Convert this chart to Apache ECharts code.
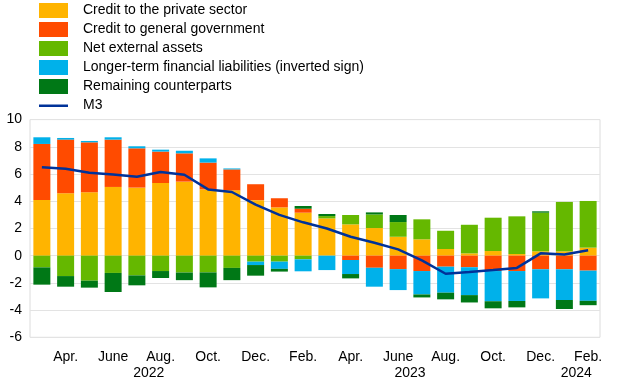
<!DOCTYPE html>
<html>
<head>
<meta charset="utf-8">
<script src="https://cdn.jsdelivr.net/npm/echarts@6/dist/echarts.min.js"></script>
<style>html,body{margin:0;padding:0;background:#fff}#c{width:620px;height:387px}</style>
</head>
<body>
<div id="c"></div>
<script>
const categories = ['2022-03','2022-04','2022-05','2022-06','2022-07','2022-08','2022-09','2022-10','2022-11','2022-12',
  '2023-01','2023-02','2023-03','2023-04','2023-05','2023-06','2023-07','2023-08','2023-09','2023-10','2023-11','2023-12',
  '2024-01','2024-02'];
const monthLabels = ['','Apr.','','June','','Aug.','','Oct.','','Dec.','','Feb.','','Apr.','','June','','Aug.','','Oct.','','Dec.','','Feb.'];
const yearPositions = [4.5, 15.5, 22.5];
const yearLabels = ['2022', '2023', '2024'];

const privateSector = [4.09,4.58,4.66,5.05,5.00,5.34,5.44,4.87,4.80,4.08,3.55,3.16,2.74,2.30,2.03,1.39,1.20,0.49,0.17,0.34,0.12,0.32,0.32,0.59];
const generalGov    = [4.12,3.95,3.67,3.48,2.89,2.31,2.08,1.97,1.54,1.17,0.67,0.29,0.00,-0.32,-0.89,-0.99,-1.13,-0.81,-0.85,-1.13,-1.13,-1.00,-1.00,-1.10];
const netExternal   = [-0.86,-1.50,-1.84,-1.27,-1.45,-1.13,-1.24,-1.23,-0.90,-0.44,-0.44,-0.27,0.17,0.69,1.00,1.08,1.47,1.34,2.10,2.45,2.77,2.84,3.63,3.43];
const longerTerm    = [0.49,0.12,0.10,0.17,0.15,0.14,0.19,0.31,0.07,-0.25,-0.53,-0.88,-1.06,-1.03,-1.39,-1.54,-1.72,-1.91,-2.05,-2.22,-2.20,-2.14,-2.26,-2.22];
const remaining     = [-1.27,-0.78,-0.51,-1.40,-0.73,-0.51,-0.56,-1.10,-0.90,-0.78,-0.20,0.20,0.15,-0.32,0.15,0.52,-0.22,-0.49,-0.54,-0.52,-0.47,0.10,-0.66,-0.32];
const m3            = [6.50,6.38,6.10,5.97,5.80,6.15,5.95,4.87,4.68,3.75,3.00,2.45,2.00,1.39,0.95,0.46,-0.35,-1.33,-1.20,-1.06,-0.90,0.17,0.08,0.40];

const FONT = "'Liberation Sans', Arial, sans-serif";
const chart = echarts.init(document.getElementById('c'), null, {renderer: 'canvas'});

function bar(name, data, color) {
  return {
    name, type: 'bar', stack: 'total', data, barWidth: 17,
    itemStyle: {color}, emphasis: {disabled: true}
  };
}

chart.setOption({
  animation: false,
  textStyle: {fontFamily: FONT},
  legend: {
    orient: 'vertical', left: 39, top: 3, padding: 0,
    itemWidth: 29, itemHeight: 15, itemGap: 4,
    textStyle: {fontSize: 14, color: '#000', fontFamily: FONT, padding: [0,0,0,10]},
    data: [
      {name: 'Credit to the private sector', icon: 'rect'},
      {name: 'Credit to general government', icon: 'rect'},
      {name: 'Net external assets', icon: 'rect'},
      {name: 'Longer-term financial liabilities (inverted sign)', icon: 'rect'},
      {name: 'Remaining counterparts', icon: 'rect'},
      {name: 'M3', icon: 'path://M0,0 M0,6.5L29,6.5L29,9L0,9Z M29,15'}
    ]
  },
  grid: {left: 30, right: 20, top: 119.6, bottom: 49.7, show: true, borderColor: '#dcdcdc', borderWidth: 1, backgroundColor: 'transparent'},
  xAxis: [
    {
      type: 'category', data: categories,
      axisLine: {show: false}, axisTick: {show: false},
      axisLabel: {interval: 0, fontSize: 14, color: '#000', fontFamily: FONT, margin: 13,
        formatter: (v, i) => monthLabels[i]}
    },
    {
      type: 'value', min: -0.5, max: 23.5, position: 'bottom', offset: 17,
      axisLine: {show: false}, axisTick: {show: false}, splitLine: {show: false},
      axisLabel: {fontSize: 14, color: '#000', fontFamily: FONT, margin: 12,
        customValues: yearPositions,
        formatter: (v) => { const k = yearPositions.indexOf(v); return k >= 0 ? yearLabels[k] : ''; }}
    }
  ],
  yAxis: {
    type: 'value', min: -6, max: 10, interval: 2,
    axisLine: {show: false}, axisTick: {show: false},
    axisLabel: {fontSize: 14, color: '#000', fontFamily: FONT, margin: 8},
    splitLine: {lineStyle: {color: '#e3e3e3', width: 1}}
  },
  series: [
    bar('Credit to the private sector', privateSector, '#FFB400'),
    bar('Credit to general government', generalGov, '#FF4B00'),
    bar('Net external assets', netExternal, '#65B800'),
    bar('Longer-term financial liabilities (inverted sign)', longerTerm, '#00B1EA'),
    bar('Remaining counterparts', remaining, '#007816'),
    {
      name: 'M3', type: 'line', data: m3, symbol: 'none', showSymbol: false,
      lineStyle: {color: '#003299', width: 2.5}, itemStyle: {color: '#003299'},
      emphasis: {disabled: true}, z: 5
    }
  ]
});
</script>
</body>
</html>
